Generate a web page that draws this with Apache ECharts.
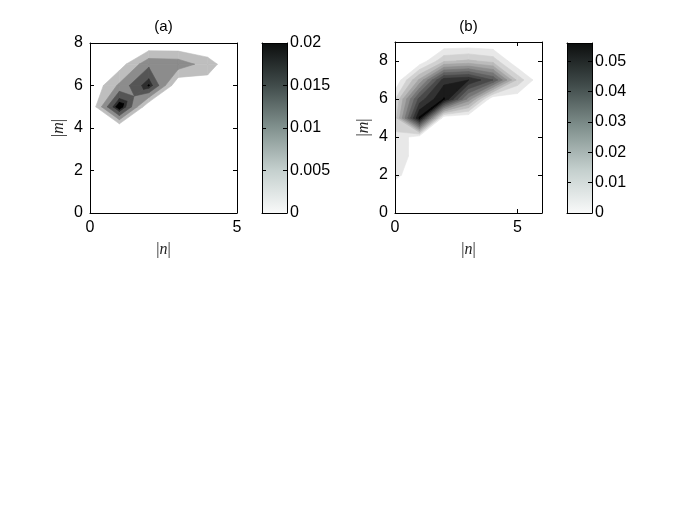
<!DOCTYPE html>
<html>
<head>
<meta charset="utf-8">
<title>contour</title>
<script src="https://cdn.jsdelivr.net/npm/echarts@6/dist/echarts.min.js"></script>
<style>
  html, body { margin: 0; padding: 0; background: #fff; }
  #main { width: 692px; height: 520px; }
</style>
</head>
<body>
<div id="main"></div>
<script>
// grid values, one row per |m| (0 at the top of the list), one column per |n|
var zA = [
  [0, 0, 0, 0, 0, 0],
  [0, 0, 0, 0, 0, 0],
  [0, 0, 0, 0, 0, 0],
  [0, 0, 0, 0, 0, 0],
  [0, 0, 0, 0, 0, 0],
  [0, 0.0205, 0, 0, 0, 0],
  [0, 0.0088, 0.0183, 0, 0.002, 0],
  [0, 0.002, 0.011, 0.0105, 0.006, 0],
  [0, 0, 0, 0, 0, 0]
];
var levelsA = [0.004, 0.008, 0.012, 0.016, 0.018];
var colorsA = ['#bebebe', '#8c8c8c', '#555555', '#2e2e2e', '#000000'];

var zB = [
  [0, 0, 0, 0, 0, 0, 0],
  [0, 0, 0, 0, 0, 0, 0],
  [0.0068, 0, 0, 0, 0, 0, 0],
  [0.0087, 0.002, 0, 0, 0, 0, 0],
  [0.0092, 0.0016, 0, 0, 0, 0, 0],
  [0.012, 0.056, 0, 0, 0, 0, 0],
  [0.0095, 0.042, 0.0555, 0.028, 0, 0.0015, 0],
  [0, 0.021, 0.048, 0.05, 0.04, 0.0135, 0],
  [0, 0.001, 0.014, 0.016, 0.013, 0, 0],
  [0, 0, 0, 0, 0, 0, 0]
];
var levelsB = [0.005, 0.01, 0.015, 0.02, 0.025, 0.03, 0.035, 0.04, 0.045, 0.05, 0.055];
var colorsB = ['#e8e8e8', '#d1d1d1', '#bbbbbb', '#a4a4a4', '#8d8d8d', '#767676',
               '#606060', '#494949', '#323232', '#1b1b1b', '#050505'];

var barMaxA = 0.02, barStepA = 0.005;
var barMaxB = 0.056, barStepB = 0.01;
var barStops = [
  { offset: 0, color: '#f8f9f9' },
  { offset: 0.25, color: '#c5d0ce' },
  { offset: 0.5, color: '#82928f' },
  { offset: 0.75, color: '#414c4b' },
  { offset: 1, color: '#0c0e0e' }
];

var font = 'Liberation Sans';

// keep the part of a polygon where value >= lv (values linear along edges)
function clipAbove(poly, lv) {
  var out = [];
  for (var i = 0; i < poly.length; i++) {
    var p = poly[i], q = poly[(i + 1) % poly.length];
    var pin = p[2] >= lv, qin = q[2] >= lv;
    if (pin) out.push(p);
    if (pin !== qin) {
      var t = (lv - p[2]) / (q[2] - p[2]);
      out.push([p[0] + t * (q[0] - p[0]), p[1] + t * (q[1] - p[1]), lv]);
    }
  }
  return out;
}

function cellPolys(z, n, m, lv, rule) {
  var a = [n, m, z[m][n]], b = [n + 1, m, z[m][n + 1]],
      c = [n + 1, m + 1, z[m + 1][n + 1]], d = [n, m + 1, z[m + 1][n]];
  var ia = a[2] >= lv, ib = b[2] >= lv, ic = c[2] >= lv, id = d[2] >= lv;
  if (!(ia || ib || ic || id)) return [];
  var saddle = ia === ic && ib === id && ia !== ib;
  if (!saddle) return [clipAbove([a, b, c, d], lv)];
  // saddle: split the cell round its centre
  var ce = rule === 'ridge'
    ? Math.max(a[2] + c[2], b[2] + d[2]) / 2
    : (a[2] + b[2] + c[2] + d[2]) / 4;
  var e = [n + 0.5, m + 0.5, ce];
  return [[a, b, e], [b, c, e], [c, d, e], [d, a, e]]
    .map(function (t) { return clipAbove(t, lv); })
    .filter(function (p) { return p.length > 2; });
}

function contourSeries(z, levels, colors, rule, xi, yi) {
  var data = [];
  for (var k = 0; k < levels.length; k++)
    for (var m = 0; m < z.length - 1; m++)
      for (var n = 0; n < z[0].length - 1; n++)
        data.push([n + 0.5, m + 0.5, k]);
  return {
    type: 'custom', xAxisIndex: xi, yAxisIndex: yi, clip: true, silent: true,
    data: data, encode: { x: 0, y: 1 },
    renderItem: function (params, api) {
      var n = api.value(0) - 0.5, m = api.value(1) - 0.5, k = api.value(2);
      var polys = cellPolys(z, n, m, levels[k], rule);
      if (!polys.length) return null;
      return {
        type: 'group',
        children: polys.map(function (p) {
          return {
            type: 'polygon',
            shape: { points: p.map(function (v) { return api.coord([v[0], v[1]]); }) },
            style: { fill: colors[k], stroke: colors[k], lineWidth: 0.6 }
          };
        })
      };
    }
  };
}

function barSeries(xi, yi, max) {
  return {
    type: 'custom', xAxisIndex: xi, yAxisIndex: yi, silent: true,
    data: [[1, max]],
    renderItem: function (params, api) {
      var p0 = api.coord([0, api.value(1)]), p1 = api.coord([api.value(0), 0]);
      return {
        type: 'rect',
        shape: { x: p0[0], y: p0[1], width: p1[0] - p0[0], height: p1[1] - p0[1] },
        style: { fill: new echarts.graphic.LinearGradient(0, 1, 0, 0, barStops) }
      };
    }
  };
}

var lineStyle = { color: '#000', width: 1 };
var labelStyle = { color: '#000', fontFamily: font, fontSize: 16 };
var nameStyle = {
  color: '#222', fontFamily: 'Liberation Serif', fontSize: 16,
  rich: { i: { fontStyle: 'italic', fontFamily: 'Liberation Serif', fontSize: 16, color: '#222' } }
};

function axis(g, pos, max, step, labels, name) {
  return {
    type: 'value', gridIndex: g, position: pos, min: 0, max: max, interval: step, z: 10,
    name: name || '', nameLocation: 'middle', nameGap: 30, nameTextStyle: nameStyle,
    axisLine: { show: true, onZero: false, lineStyle: lineStyle },
    axisTick: { show: !!step, inside: true, length: 4, lineStyle: lineStyle },
    axisLabel: { show: labels, margin: 7, showMaxLabel: false, textStyle: labelStyle },
    splitLine: { show: false }
  };
}
function barAxisX(g, pos) {
  return {
    type: 'value', gridIndex: g, position: pos, min: 0, max: 1, z: 10,
    axisLine: { show: true, onZero: false, lineStyle: lineStyle },
    axisTick: { show: false }, axisLabel: { show: false }, splitLine: { show: false }
  };
}

var chart = echarts.init(document.getElementById('main'));
var xa = axis(0, 'bottom', 5, 5, true, '|{i|n}|');
var ya = axis(0, 'left', 8, 2, true, '|{i|m}|');
var xb = axis(3, 'bottom', 6, 5, true, '|{i|n}|');
var yb = axis(3, 'left', 9, 2, true, '|{i|m}|');
xa.axisLabel.showMaxLabel = true;
ya.axisLabel.showMaxLabel = true;
xa.nameGap = 29; xb.nameGap = 29;
ya.nameGap = 23; yb.nameGap = 23;
var cbA = axis(1, 'right', barMaxA, barStepA, true);
cbA.axisLabel.showMaxLabel = true;
cbA.axisLabel.margin = 3;
var cbB = axis(2, 'right', barMaxB, barStepB, true);
cbB.axisLabel.margin = 3;

var titleStyle = { fontFamily: font, fontSize: 15, fontWeight: 'normal', color: '#000' };

chart.setOption({
  animation: false,
  backgroundColor: '#fff',
  title: [
    { text: '(a)', left: 163.5, top: 19, textAlign: 'center', padding: 0, textStyle: titleStyle },
    { text: '(b)', left: 468.5, top: 19, textAlign: 'center', padding: 0, textStyle: titleStyle }
  ],
  grid: [
    { left: 90, top: 43, width: 147, height: 170 },
    { left: 262, top: 43, width: 25, height: 170 },
    { left: 567, top: 43, width: 25, height: 170 },
    { left: 395, top: 42, width: 147, height: 171 }
  ],
  xAxis: [
    xa, axis(0, 'top', 5, 5, false),
    barAxisX(1, 'bottom'), barAxisX(1, 'top'),
    barAxisX(2, 'bottom'), barAxisX(2, 'top'),
    xb, axis(3, 'top', 6, 5, false)
  ],
  yAxis: [
    ya, axis(0, 'right', 8, 2, false),
    axis(1, 'left', barMaxA, barStepA, false), cbA,
    axis(2, 'left', barMaxB, barStepB, false), cbB,
    yb, axis(3, 'right', 9, 2, false)
  ],
  series: [
    contourSeries(zA, levelsA, colorsA, 'mean', 0, 0),
    barSeries(2, 3, barMaxA),
    barSeries(4, 5, barMaxB),
    contourSeries(zB, levelsB, colorsB, 'ridge', 6, 6)
  ]
});
</script>
</body>
</html>
